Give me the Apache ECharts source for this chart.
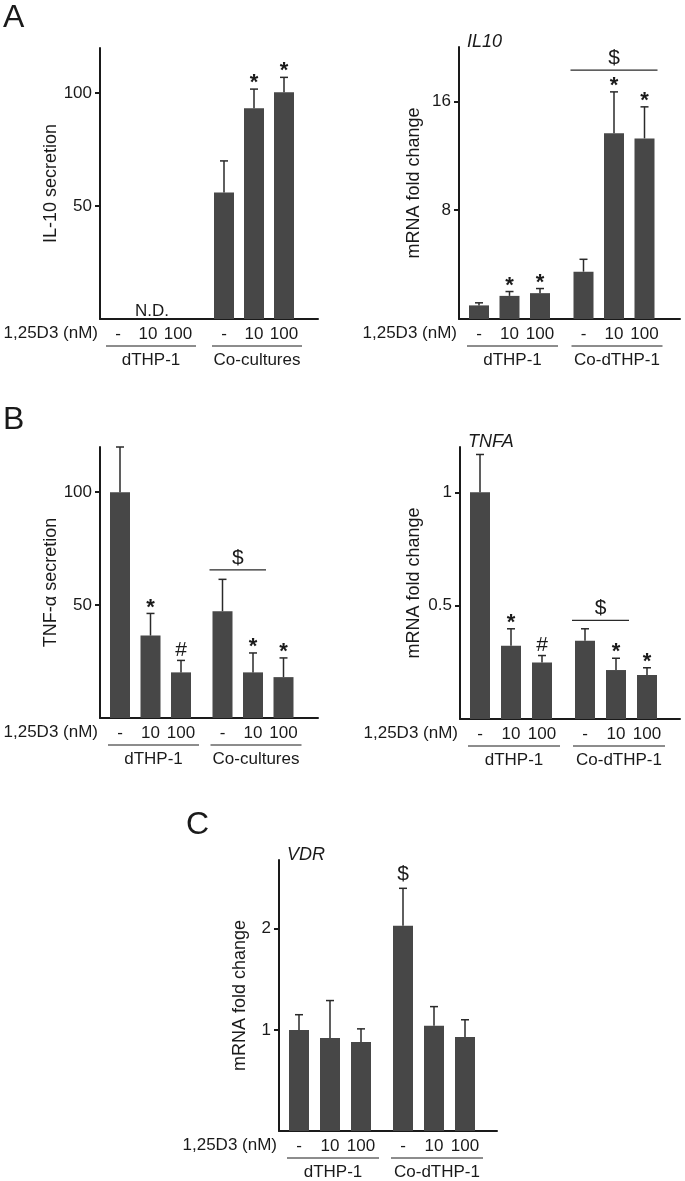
<!DOCTYPE html>
<html>
<head>
<meta charset="utf-8">
<script src="https://cdn.jsdelivr.net/npm/echarts@6/dist/echarts.min.js"></script>
<style>
html, body { margin: 0; padding: 0; background: #fff; }
#chart { width: 685px; height: 1181px; }
</style>
</head>
<body>
<div id="chart"></div>
<script>
// bar labels under each axis: two cell groups, three doses each
var doses = ['-', '10', '100', '-', '10', '100'];
var groupsSecretion = ['dTHP-1', 'Co-cultures'];
var groupsMrna = ['dTHP-1', 'Co-dTHP-1'];

// A left: IL-10 secretion (N.D. for dTHP-1)
var il10Secretion = [null, null, null, 56, 93.3, 100.4];
var il10SecretionErr = [null, null, null, 14, 8.5, 6.6];
var il10SecretionSig = ['', '', '', '', '*', '*'];

// A right: IL10 mRNA
var il10Mrna = [1.0, 1.7, 1.9, 3.48, 13.65, 13.28];
var il10MrnaErr = [0.19, 0.32, 0.34, 0.91, 3.05, 2.32];
var il10MrnaSig = ['', '*', '*', '', '*', '*'];
var il10MrnaBracket = [3, 5, 18.3, '$'];

// B left: TNF-a secretion
var tnfSecretion = [100, 36.5, 20.2, 47.3, 20.2, 18.1];
var tnfSecretionErr = [20, 9.8, 5.3, 14.1, 8.6, 8.5];
var tnfSecretionSig = ['', '*', '#', '', '*', '*'];
var tnfSecretionBracket = [3, 4, 65.6, '$'];

// B right: TNFA mRNA
var tnfMrna = [1.0, 0.323, 0.249, 0.345, 0.216, 0.194];
var tnfMrnaErr = [0.167, 0.075, 0.031, 0.053, 0.052, 0.032];
var tnfMrnaSig = ['', '*', '#', '', '*', '*'];
var tnfMrnaBracket = [3, 4, 0.435, '$'];

// C: VDR mRNA
var vdrMrna = [1.0, 0.92, 0.88, 2.03, 1.04, 0.93];
var vdrMrnaErr = [0.15, 0.37, 0.13, 0.37, 0.19, 0.17];
var vdrMrnaSig = ['', '', '', '$', '', ''];

var FONT = '"Liberation Sans", Arial, Helvetica, sans-serif';
var INK = '#1a1a1a';
var BAR = '#474747';

var panels = [
    { left: 100, top: 48, width: 218, height: 271, first: 18, step: 30, gap: 16,
      max: 120, ticks: [50, 100], name: 'IL-10 secretion', gene: null, groups: groupsSecretion,
      values: il10Secretion, err: il10SecretionErr, sig: il10SecretionSig, bracket: null, nd: true, nameGap: 40 },
    { left: 459, top: 47, width: 221, height: 272, first: 20, step: 30.5, gap: 13,
      max: 20, ticks: [8, 16], name: 'mRNA fold change', gene: 'IL10', groups: groupsMrna,
      values: il10Mrna, err: il10MrnaErr, sig: il10MrnaSig, bracket: il10MrnaBracket, nameGap: 36 },
    { left: 100, top: 447, width: 218, height: 271, first: 20, step: 30.5, gap: 11,
      max: 120, ticks: [50, 100], name: 'TNF-\u03b1 secretion', gene: null, groups: groupsSecretion,
      values: tnfSecretion, err: tnfSecretionErr, sig: tnfSecretionSig, bracket: tnfSecretionBracket, nameGap: 40 },
    { left: 460, top: 447, width: 220, height: 272, first: 20, step: 31, gap: 12,
      max: 1.2, ticks: [0.5, 1], name: 'mRNA fold change', gene: 'TNFA', groups: groupsMrna,
      values: tnfMrna, err: tnfMrnaErr, sig: tnfMrnaSig, bracket: tnfMrnaBracket, nameGap: 37 },
    { left: 279, top: 860, width: 218, height: 271, first: 20, step: 31, gap: 11,
      max: 2.68, ticks: [1, 2], name: 'mRNA fold change', gene: 'VDR', groups: groupsMrna,
      values: vdrMrna, err: vdrMrnaErr, sig: vdrMrnaSig, bracket: null, nameGap: 30 }
];

var sigOffset = { '*': 6, '#': 10, '$': 14 };

panels.forEach(function (p) {
    var g = p.gap / p.step;
    p.pos = doses.map(function (_, i) { return i + (i >= 3 ? g : 0); });
});

function labelFor(p, v) {
    for (var i = 0; i < p.pos.length; i++) {
        if (Math.abs(p.pos[i] - v) < 1e-6) return doses[i];
    }
    return '';
}

function errRenderer(p) {
    return function (params, api) {
        var i = params.dataIndex;
        var v = p.values[i];
        if (v == null) return;
        var x = p.pos[i];
        var b = api.coord([x, v]);
        var t = api.coord([x, v + p.err[i]]);
        var st = { stroke: '#2a2a2a', lineWidth: 1.5 };
        var kids = [
            { type: 'line', shape: { x1: b[0], y1: b[1], x2: t[0], y2: t[1] }, style: st },
            { type: 'line', shape: { x1: t[0] - 4, y1: t[1], x2: t[0] + 4, y2: t[1] }, style: st }
        ];
        var s = p.sig[i];
        if (s) {
            kids.push({ type: 'text', x: t[0], y: t[1] - sigOffset[s],
                style: { text: s, fill: INK, font: (s === '*' ? 'bold 22px ' : '21px ') + FONT, align: 'center', verticalAlign: 'middle' } });
        }
        return { type: 'group', children: kids };
    };
}

function bracketRenderer(p) {
    return function (params, api) {
        var br = p.bracket;
        var a = api.coord([p.pos[br[0]], br[2]]);
        var c = api.coord([p.pos[br[1]], br[2]]);
        return { type: 'group', children: [
            { type: 'line', shape: { x1: a[0] - 13, y1: a[1], x2: c[0] + 13, y2: c[1] },
              style: { stroke: '#2a2a2a', lineWidth: 1.2 } },
            { type: 'text', x: (a[0] + c[0]) / 2, y: a[1] - 12,
              style: { text: br[3], fill: INK, font: '21px ' + FONT, align: 'center', verticalAlign: 'middle' } }
        ] };
    };
}

var grids = [], xAxes = [], yAxes = [], series = [];
panels.forEach(function (p, k) {
    grids.push({ left: p.left, top: p.top, width: p.width, height: p.height, outerBoundsMode: 'none', containLabel: false });
    xAxes.push({
        type: 'value', gridIndex: k,
        min: -p.first / p.step, max: (p.width - p.first) / p.step,
        splitLine: { show: false },
        axisTick: { show: false },
        axisLine: { show: true, onZero: false, lineStyle: { color: INK, width: 2 } },
        axisLabel: {
            customValues: p.pos, margin: 7, color: INK, fontSize: 17, fontFamily: FONT,
            formatter: function (v) { return labelFor(p, v); }
        }
    });
    yAxes.push({
        type: 'value', gridIndex: k, min: 0, max: p.max,
        name: p.name, nameLocation: 'middle', nameGap: p.nameGap, nameRotate: 90,
        nameTextStyle: { color: INK, fontSize: 18, fontFamily: FONT },
        splitLine: { show: false },
        axisLine: { show: true, onZero: false, lineStyle: { color: INK, width: 2 } },
        axisTick: { show: true, inside: false, length: 5, customValues: p.ticks, lineStyle: { color: INK, width: 2 } },
        axisLabel: { customValues: p.ticks, margin: 8, color: INK, fontSize: 17, fontFamily: FONT }
    });
    series.push({
        type: 'bar', xAxisIndex: k, yAxisIndex: k, barWidth: 20, silent: true,
        itemStyle: { color: BAR },
        data: p.values.map(function (v, i) { return [p.pos[i], v]; })
    });
    series.push({
        type: 'custom', xAxisIndex: k, yAxisIndex: k, clip: false, silent: true, z: 3,
        renderItem: errRenderer(p),
        data: p.values.map(function (v, i) { return [p.pos[i], v]; })
    });
    if (p.bracket) {
        series.push({
            type: 'custom', xAxisIndex: k, yAxisIndex: k, clip: false, silent: true, z: 3,
            renderItem: bracketRenderer(p),
            data: [[p.pos[p.bracket[0]], p.bracket[2]]]
        });
    }
});

var chart = echarts.init(document.getElementById('chart'), null, { renderer: 'canvas' });
chart.setOption({
    animation: false,
    backgroundColor: '#fff',
    grid: grids, xAxis: xAxes, yAxis: yAxes, series: series
});

// labels around the axes, placed through the axes' own scales
var graphics = [];
function txt(x, y, s, size, align, extra) {
    var st = { text: s, fill: INK, font: (extra || '') + size + 'px ' + FONT, align: align, verticalAlign: 'middle' };
    graphics.push({ type: 'text', x: x, y: y, style: st, silent: true });
}
panels.forEach(function (p, k) {
    var base = chart.convertToPixel({ gridIndex: k }, [p.pos[0], 0])[1];
    txt(p.left - 2, base + 14, '1,25D3 (nM)', 17, 'right');
    for (var g = 0; g < 2; g++) {
        var x1 = chart.convertToPixel({ gridIndex: k }, [p.pos[3 * g], 0])[0] - 12;
        var x2 = chart.convertToPixel({ gridIndex: k }, [p.pos[3 * g + 2], 0])[0] + 18;
        graphics.push({ type: 'line', silent: true, shape: { x1: x1, y1: base + 27, x2: x2, y2: base + 27 },
            style: { stroke: INK, lineWidth: 1 } });
        txt((x1 + x2) / 2, base + 41, p.groups[g], 17, 'center');
    }
    if (p.gene) txt(p.left + 8, p.top - 5, p.gene, 18, 'left', 'italic ');
    if (p.nd) {
        var nx = chart.convertToPixel({ gridIndex: k }, [p.pos[1], 0])[0];
        txt(nx + 4, base - 8, 'N.D.', 17, 'center');
    }
});
txt(3, 18, 'A', 32, 'left');
txt(3, 420, 'B', 32, 'left');
txt(186, 825, 'C', 32, 'left');
chart.setOption({ graphic: graphics });
</script>
</body>
</html>
